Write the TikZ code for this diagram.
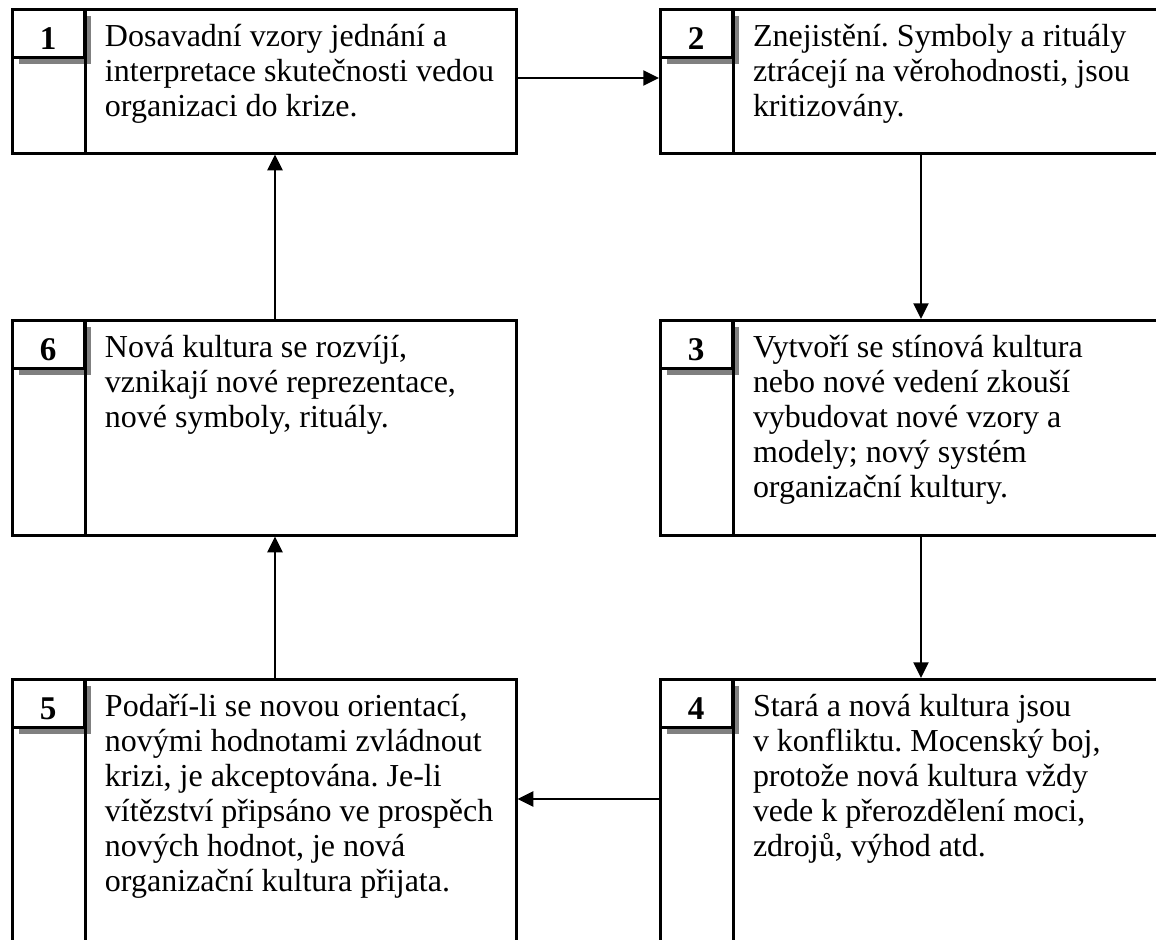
\documentclass[tikz,border=0pt]{standalone}
\usepackage{fontspec}
\setmainfont{Liberation Serif}
\usetikzlibrary{arrows.meta,positioning,shadows}
\frenchspacing

\begin{document}
\begin{tikzpicture}[x=0.35pt,y=-0.35pt,
 stage/.style={draw,line width=0.9pt,anchor=north west,minimum width=176.4pt,inner sep=0pt},
 numtab/.style={draw,line width=0.9pt,fill=white,anchor=north west,minimum width=25.2pt,minimum height=16.8pt,inner sep=0pt,text height=11pt,text depth=0pt,font=\fontsize{11.6}{12.25}\selectfont\bfseries,drop shadow={shadow xshift=2.3pt,shadow yshift=-2.3pt,fill=black!50,opacity=1}},
 txt/.style={anchor=north west,inner sep=0pt,align=left,font=\fontsize{11.2}{12.25}\selectfont,execute at begin node=\strut},
 link/.style={line width=0.9pt,-{Triangle[length=5.5pt,width=5.2pt]}}]
\useasboundingbox (0,0) rectangle (1156,940);
\clip (0,0) rectangle (1156,940);

% levy sloupec
\node[stage,minimum height=50.4pt] (b1) at (11,8) {};
\node[numtab] (t1) at (b1.north west) {1};
\draw[line width=0.9pt] (t1.north east) -- (t1.north east |- b1.south);
\node[txt] (x1) at ([xshift=32.7pt,yshift=-5.4pt]b1.north west) {Dosavadní vzory jednání a\\interpretace skutečnosti vedou\\organizaci do krize.};

\node[stage,minimum height=75.25pt] (b6) at (11,319) {};
\node[numtab] (t6) at (b6.north west) {6};
\draw[line width=0.9pt] (t6.north east) -- (t6.north east |- b6.south);
\node[txt] (x6) at ([xshift=32.7pt,yshift=-5.4pt]b6.north west) {Nová kultura se rozvíjí,\\vznikají nové reprezentace,\\nové symboly, rituály.};

\node[stage,minimum height=98pt] (b5) at (11,678) {};
\node[numtab] (t5) at (b5.north west) {5};
\draw[line width=0.9pt] (t5.north east) -- (t5.north east |- b5.south);
\node[txt] (x5) at ([xshift=32.7pt,yshift=-5.4pt]b5.north west) {Podaří-li se novou orientací,\\novými hodnotami zvládnout\\krizi, je akceptována. Je-li\\vítězství připsáno ve prospěch\\nových hodnot, je nová\\organizační kultura přijata.};

% pravy sloupec
\node[stage,minimum height=50.4pt] (b2) at (659,8) {};
\node[numtab] (t2) at (b2.north west) {2};
\draw[line width=0.9pt] (t2.north east) -- (t2.north east |- b2.south);
\node[txt] (x2) at ([xshift=32.7pt,yshift=-5.4pt]b2.north west) {Znejistění. Symboly a rituály\\ztrácejí na věrohodnosti, jsou\\kritizovány.};

\node[stage,minimum height=75.25pt] (b3) at (659,319) {};
\node[numtab] (t3) at (b3.north west) {3};
\draw[line width=0.9pt] (t3.north east) -- (t3.north east |- b3.south);
\node[txt] (x3) at ([xshift=32.7pt,yshift=-5.4pt]b3.north west) {Vytvoří se stínová kultura\\nebo nové vedení zkouší\\vybudovat nové vzory a\\modely; nový systém\\organizační kultury.};

\node[stage,minimum height=98pt] (b4) at (659,678) {};
\node[numtab] (t4) at (b4.north west) {4};
\draw[line width=0.9pt] (t4.north east) -- (t4.north east |- b4.south);
\node[txt] (x4) at ([xshift=32.7pt,yshift=-5.4pt]b4.north west) {Stará a nová kultura jsou\\v konfliktu. Mocenský boj,\\protože nová kultura vždy\\vede k přerozdělení moci,\\zdrojů, výhod atd.};

% sipky
\draw[link] (b1.east |- 0,78) -- (b2.west |- 0,78);
\draw[link] (b2.south -| 921,0) -- (b3.north -| 921,0);
\draw[link] (b3.south -| 921,0) -- (b4.north -| 921,0);
\draw[link] (b4.west |- 0,799) -- (b5.east |- 0,799);
\draw[link] (b5.north -| 275,0) -- (b6.south -| 275,0);
\draw[link] (b6.north -| 275,0) -- (b1.south -| 275,0);
\end{tikzpicture}
\end{document}
